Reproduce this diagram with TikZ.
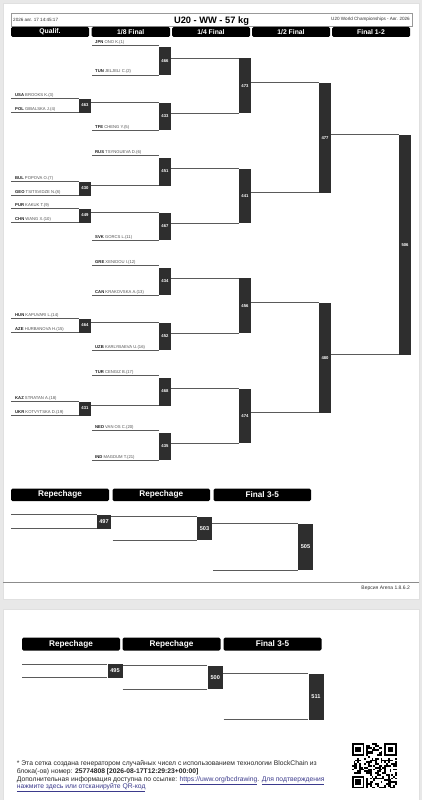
\documentclass[tikz,border=0pt]{standalone}
\usepackage{fontspec}
\setmainfont{Liberation Sans}
\definecolor{bgc}{HTML}{E8E8E8}
\definecolor{boxc}{HTML}{2E2E2E}
\definecolor{lnc}{HTML}{5A5A5A}
\definecolor{namec}{HTML}{505050}
\definecolor{linkc}{HTML}{3B3A8C}
\newcommand{\ctry}[1]{{\color{black!90}\bfseries #1}}
% \rectnode{style}{x1}{y1}{x2}{y2}{name}{text}
\newcommand{\rectnode}[7]{%
  \node[#1, minimum width={(#4-#2)*1pt}, minimum height={(#5-#3)*1pt}] (#6) at ({(#2+#4)/2},{(#3+#5)/2}) {#7};}
\tikzset{
  ln/.style={draw=lnc, line width=0.8pt},
  bx/.style={fill=boxc, draw=none, inner sep=0pt, text=white, font=\fontsize{4.2}{5}\selectfont\bfseries},
  rbx/.style={bx, font=\fontsize{5.6}{6}\selectfont\bfseries},
  colhead/.style={fill=black, rounded corners=1.5pt, inner sep=0pt, text=white, font=\fontsize{6.8}{8}\selectfont\bfseries},
  rephead/.style={colhead, font=\fontsize{8.2}{9}\selectfont\bfseries},
  nm/.style={anchor=base west, inner sep=0pt, text=namec, font=\fontsize{4.2}{5}\selectfont},
  small/.style={inner sep=0pt, text=black!80, font=\fontsize{4.6}{5}\selectfont},
  foot/.style={anchor=base west, inner sep=0pt, text=black!85, font=\fontsize{6.75}{7}\selectfont},
  page/.style={fill=white, draw=black!12, line width=0.5pt},
}
\begin{document}
\begin{tikzpicture}[x=1pt, y=-1pt]
\useasboundingbox (0,0) rectangle (422,800);
\fill[bgc] (0,0) rectangle (422,800);
\path[page] (3,3) rectangle (419,599);
\path[page] (3,609) rectangle (419,803);

% ---------- header ----------
\draw[draw=black!40, line width=0.5pt] (11,13) rectangle (412,26);
\node[small, anchor=west] (hdate) at (13,19.5) {2026 авг. 17 14:45:17};
\node[small, anchor=east] (hevent) at (410,19.5) {U20 World Championships - Авг. 2026};
\node[inner sep=0pt, anchor=base, font=\fontsize{9.3}{10}\selectfont\bfseries] (htitle) at (211.5,23.6) {U20 - WW - 57 kg};

\rectnode{colhead}{11}{27}{89}{37}{c1}{Qualif.}
\rectnode{colhead}{91.5}{27}{170}{37}{c2}{1/8 Final}
\rectnode{colhead}{172}{27}{250}{37}{c3}{1/4 Final}
\rectnode{colhead}{252}{27}{330}{37}{c4}{1/2 Final}
\rectnode{colhead}{332}{27}{410}{37}{c5}{Final 1-2}

% ---------- boxes ----------
\rectnode{bx}{79}{98.5}{91}{112.5}{b463}{463}
\rectnode{bx}{79}{181.5}{91}{195.5}{b430}{430}
\rectnode{bx}{79}{208.5}{91}{222.5}{b449}{449}
\rectnode{bx}{79}{318.5}{91}{332.5}{b464}{464}
\rectnode{bx}{79}{401.5}{91}{415.5}{b431}{431}

\rectnode{bx}{159}{47.5}{171}{75}{b466}{466}
\rectnode{bx}{159}{102.5}{171}{130}{b433}{433}
\rectnode{bx}{159}{157.5}{171}{185.5}{b451}{451}
\rectnode{bx}{159}{212.5}{171}{240}{b467}{467}
\rectnode{bx}{159}{267.5}{171}{295}{b434}{434}
\rectnode{bx}{159}{322.5}{171}{350}{b452}{452}
\rectnode{bx}{159}{377.5}{171}{405.5}{b468}{468}
\rectnode{bx}{159}{432.5}{171}{460}{b435}{435}

\rectnode{bx}{239}{58.25}{251}{113.25}{b473}{473}
\rectnode{bx}{239}{168.5}{251}{223.25}{b441}{441}
\rectnode{bx}{239}{278.25}{251}{333.25}{b456}{456}
\rectnode{bx}{239}{388.5}{251}{443.25}{b474}{474}

\rectnode{bx}{319}{82.75}{331}{192.875}{b477}{477}
\rectnode{bx}{319}{302.75}{331}{412.875}{b480}{480}

\rectnode{bx}{399}{134.8}{411}{354.8}{b506}{506}

% ---------- athlete lines: qualification ----------
\foreach \c/\y/\cn/\nm/\b in {
  qUSA/98.5/USA/BROOKS K.(3)/b463, qPOL/112.5/POL/GIBALSKA J.(4)/b463,
  qBUL/181.5/BUL/POPOVA O.(7)/b430, qGEO/195.5/GEO/TSITSVIDZE N.(8)/b430,
  qPUR/208.5/PUR/KAKUK T.(9)/b449, qCHN/222.5/CHN/WANG X.(10)/b449,
  qHUN/318.5/HUN/KAPUVARI L.(14)/b464, qAZE/332.5/AZE/HURBANOVA H.(15)/b464,
  qKAZ/401.5/KAZ/STRATAN A.(18)/b431, qUKR/415.5/UKR/KOTVYTSKA D.(19)/b431}{
  \coordinate (\c) at (11,\y);
  \draw[ln] (\c) -- (\c -| \b.west);
  \node[nm] (n\c) at (15,\y-2) {\ctry{\cn} \nm};
}
% ---------- athlete lines: 1/8 ----------
\foreach \c/\y/\cn/\nm/\b in {
  eJPN/45.5/JPN/ONO K.(1)/b466, eTUN/75/TUN/JELJELI C.(2)/b466,
  eTFE/130/TFE/CHENG Y.(5)/b433, eRUS/155.5/RUS/TSYNGUEVA D.(6)/b451,
  eSVK/240/SVK/GORCS L.(11)/b467, eGRE/265.5/GRE/XENIDOU I.(12)/b434,
  eCAN/295/CAN/KRAKOVSKA A.(13)/b434, eUZB/350/UZB/KARLYBAEVA U.(16)/b452,
  eTUR/375.5/TUR/CENGIZ B.(17)/b468, eNED/430.5/NED/VAN OS C.(20)/b435,
  eIND/460/IND/MAGDUM T.(21)/b435}{
  \coordinate (\c) at (92,\y);
  \draw[ln] (\c) -- (\c -| \b.west);
  \node[nm] (n\c) at (95,\y-2) {\ctry{\cn} \nm};
}
% ---------- winner connectors ----------
\foreach \a/\b in {b463/b433, b430/b451, b449/b467, b464/b452, b431/b468,
  b466/b473, b433/b473, b451/b441, b467/b441, b434/b456, b452/b456, b468/b474, b435/b474,
  b473/b477, b441/b477, b456/b480, b474/b480, b477/b506, b480/b506}{
  \draw[ln] ([yshift=3pt]\a.east) -- ([yshift=3pt]\a.east -| \b.west);
}

% ---------- repechage page 1 ----------
\rectnode{rephead}{11}{488.5}{109}{501}{r1}{Repechage}
\rectnode{rephead}{112.5}{488.5}{210}{501}{r2}{Repechage}
\rectnode{rephead}{213.5}{488.5}{311}{501}{r3}{Final 3-5}

\rectnode{rbx}{97}{514.5}{111}{528.5}{b497}{497}
\rectnode{rbx}{197}{516.5}{212}{540}{b503}{503}
\rectnode{rbx}{298}{524}{313}{570}{b505}{505}
\coordinate (p497a) at (11,514.5);
\coordinate (p497b) at (11,528.5);
\coordinate (p503b) at (112.5,540);
\coordinate (p505b) at (213,570);
\draw[ln] (p497a) -- (p497a -| b497.west);
\draw[ln] (p497b) -- (p497b -| b497.west);
\draw[ln] (b497.east |- b503.north) -- (b503.north west);
\draw[ln] (p503b) -- (p503b -| b503.west);
\draw[ln] (b503.east |- b505.north) -- (b505.north west);
\draw[ln] (p505b) -- (p505b -| b505.west);

\draw[draw=black!45, line width=0.6pt] (3,582) -- (419,582);
\node[small, anchor=east, font=\fontsize{5}{6}\selectfont] (ver) at (410,588.5) {Версия Arena 1.8.6.2};

% ---------- repechage page 2 ----------
\rectnode{rephead}{22}{637.5}{120}{650.5}{s1}{Repechage}
\rectnode{rephead}{122.5}{637.5}{220.5}{650.5}{s2}{Repechage}
\rectnode{rephead}{223.5}{637.5}{321.5}{650.5}{s3}{Final 3-5}

\rectnode{rbx}{107.5}{664}{122.5}{677.5}{b495}{495}
\rectnode{rbx}{207.5}{666}{223}{689}{b500}{500}
\rectnode{rbx}{308.5}{673.5}{323.5}{719.5}{b511}{511}
\coordinate (p495a) at (22,664);
\coordinate (p495b) at (22,677.5);
\coordinate (p500b) at (122.5,689);
\coordinate (p511b) at (223.5,719.5);
\draw[ln] (p495a) -- (p495a -| b495.west);
\draw[ln] (p495b) -- (p495b -| b495.west);
\draw[ln] (b495.east |- b500.north) -- (b500.north west);
\draw[ln] (p500b) -- (p500b -| b500.west);
\draw[ln] (b500.east |- b511.north) -- (b511.north west);
\draw[ln] (p511b) -- (p511b -| b511.west);

% ---------- footer text ----------
\node[foot] (f1) at (16.7,765.5) {* Эта сетка создана генератором случайных чисел с использованием технологии BlockChain из};
\node[foot] (f2) at (16.7,773) {блока(-ов) номер: \textbf{25774808 [2026-08-17T12:29:23+00:00]}};
\node[foot] (f3) at (16.7,781) {Дополнительная информация доступна по ссылке: {\color{linkc}\underline{https://uww.org/bcdrawing}}. {\color{linkc}\underline{Для подтверждения}}};
\node[foot] (f4) at (16.7,788.5) {{\color{linkc}\underline{нажмите здесь или отсканируйте QR-код}}};

% ---------- QR code ----------
\begin{scope}[shift={(351.7,743.3)}]
  \pgfmathsetseed{4217}
  \foreach \i in {0,...,24}{
    \foreach \j in {0,...,24}{
      \pgfmathtruncatemacro\qbit{rnd<0.5}
      \ifnum\qbit=1
        \fill[black] (\i*1.8,\j*1.8) rectangle ++(1.8,1.8);
      \fi
    }
  }
  \fill[white] (0,0) rectangle ++(8*1.8,8*1.8);
  \fill[white] (17*1.8,0) rectangle ++(8*1.8,8*1.8);
  \fill[white] (0,17*1.8) rectangle ++(8*1.8,8*1.8);
  \foreach \ox/\oy in {0/0, 18/0, 0/18}{
    \fill[black] (\ox*1.8,\oy*1.8) rectangle ++(7*1.8,7*1.8);
    \fill[white] (\ox*1.8+1.8,\oy*1.8+1.8) rectangle ++(5*1.8,5*1.8);
    \fill[black] (\ox*1.8+3.6,\oy*1.8+3.6) rectangle ++(3*1.8,3*1.8);
  }
\end{scope}
\end{tikzpicture}
\end{document}
